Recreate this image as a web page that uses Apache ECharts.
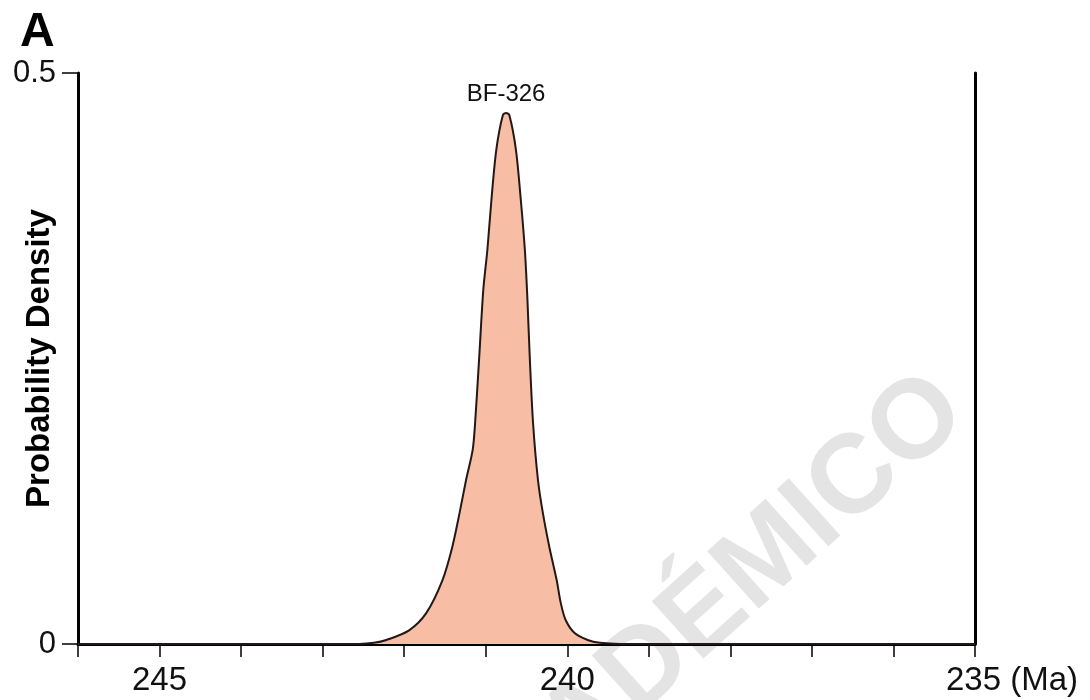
<!DOCTYPE html>
<html>
<head>
<meta charset="utf-8">
<script src="https://cdn.jsdelivr.net/npm/echarts@6/dist/echarts.min.js"></script>
<style>
  html, body { margin: 0; padding: 0; background: #fff; }
  #myChart { width: 1090px; height: 700px; }
</style>
</head>
<body>
<div id="myChart"></div>
<script>
// age (Ma) and probability density, left to right
const ages = [246, 242.55, 242.37, 242.22, 241.94, 241.73, 241.53, 241.41, 241.32, 241.24, 241.16,
  241.13, 241.08, 241.03, 240.98, 240.93, 240.87, 240.79, 240.75, 240.71, 240.63, 240.57, 240.52,
  240.49, 240.46, 240.42, 240.36, 240.30, 240.22, 240.13, 240.08, 240.02, 239.91, 239.75, 239.60,
  239.35, 235];
const density = [0, 0, 0.001, 0.0035, 0.012, 0.027, 0.056, 0.085, 0.115, 0.144, 0.170,
  0.194, 0.251, 0.310, 0.345, 0.389, 0.433, 0.463, 0.465, 0.463, 0.433, 0.389, 0.345,
  0.304, 0.251, 0.194, 0.144, 0.115, 0.085, 0.056, 0.036, 0.021, 0.0096, 0.0035, 0.001,
  0, 0];
const sampleName = "BF-326";
const peakIndex = 18;
const xLabels = { 245: "245", 240: "240", 235: "235" };

const font = "Liberation Sans, Arial, sans-serif";
var myChart = echarts.init(document.getElementById("myChart"));

const data = ages.map((a, i) => [a, density[i]]);

myChart.setOption({
  animation: false,
  title: {
    text: "A", left: 15, top: 4,
    textStyle: { fontSize: 48, fontWeight: "bold", color: "#000", fontFamily: font },
  },
  graphic: [{
    type: "text", x: 950, y: 395, rotation: 0.733, z: -10,
    style: { text: "ACADÉMICO", fill: "#e4e4e4", font: "bold 112px Liberation Sans, Arial, sans-serif",
      align: "right", verticalAlign: "middle" },
  }],
  grid: { left: 78, right: 115, top: 73, bottom: 56, outerBoundsMode: "none", containLabel: false },
  xAxis: {
    type: "value", inverse: true, min: 235, max: 246, interval: 1,
    axisLine: { lineStyle: { color: "#000", width: 3 } },
    axisTick: { length: 13, lineStyle: { color: "#000", width: 1.5 } },
    splitLine: { show: false },
    axisLabel: {
      margin: 20, fontSize: 33, color: "#111", fontFamily: font, showMinLabel: true, showMaxLabel: true,
      formatter: (v) => {
        if (v === 235) return "{pad|}235 (Ma)";
        return xLabels[v] || "";
      },
      rich: { pad: { width: 74 } },
    },
  },
  yAxis: [{
    type: "value", min: 0, max: 0.5, interval: 0.5,
    name: "Probability Density", nameLocation: "middle", nameGap: 22, nameRotate: 90,
    nameMoveOverlap: false,
    nameTextStyle: { fontSize: 33, fontWeight: "bold", color: "#000", fontFamily: font },
    axisLine: { show: true, lineStyle: { color: "#000", width: 3 } },
    axisTick: { show: true, length: 16, lineStyle: { color: "#000", width: 1.5 } },
    splitLine: { show: false },
    axisLabel: { margin: 22, fontSize: 31, color: "#111", fontFamily: font,
      formatter: (v) => (v === 0 ? "0" : String(v)) },
  }, {
    type: "value", min: 0, max: 0.5, position: "right",
    axisLine: { show: true, lineStyle: { color: "#000", width: 3 } },
    axisTick: { show: false }, axisLabel: { show: false }, splitLine: { show: false },
  }],
  series: [{
    type: "line", data, smooth: 0.3, symbol: "none",
    lineStyle: { color: "#231815", width: 2 },
    areaStyle: { color: "#F8BEA5", opacity: 1 },
    z: 3,
    markPoint: {
      symbol: "circle", symbolSize: 1,
      itemStyle: { color: "rgba(0,0,0,0)" },
      label: { show: true, position: "top", distance: 6, formatter: sampleName,
        fontSize: 24, color: "#111", fontFamily: font },
      data: [{ coord: [ages[peakIndex], density[peakIndex]] }],
    },
  }],
});
</script>
</body>
</html>
